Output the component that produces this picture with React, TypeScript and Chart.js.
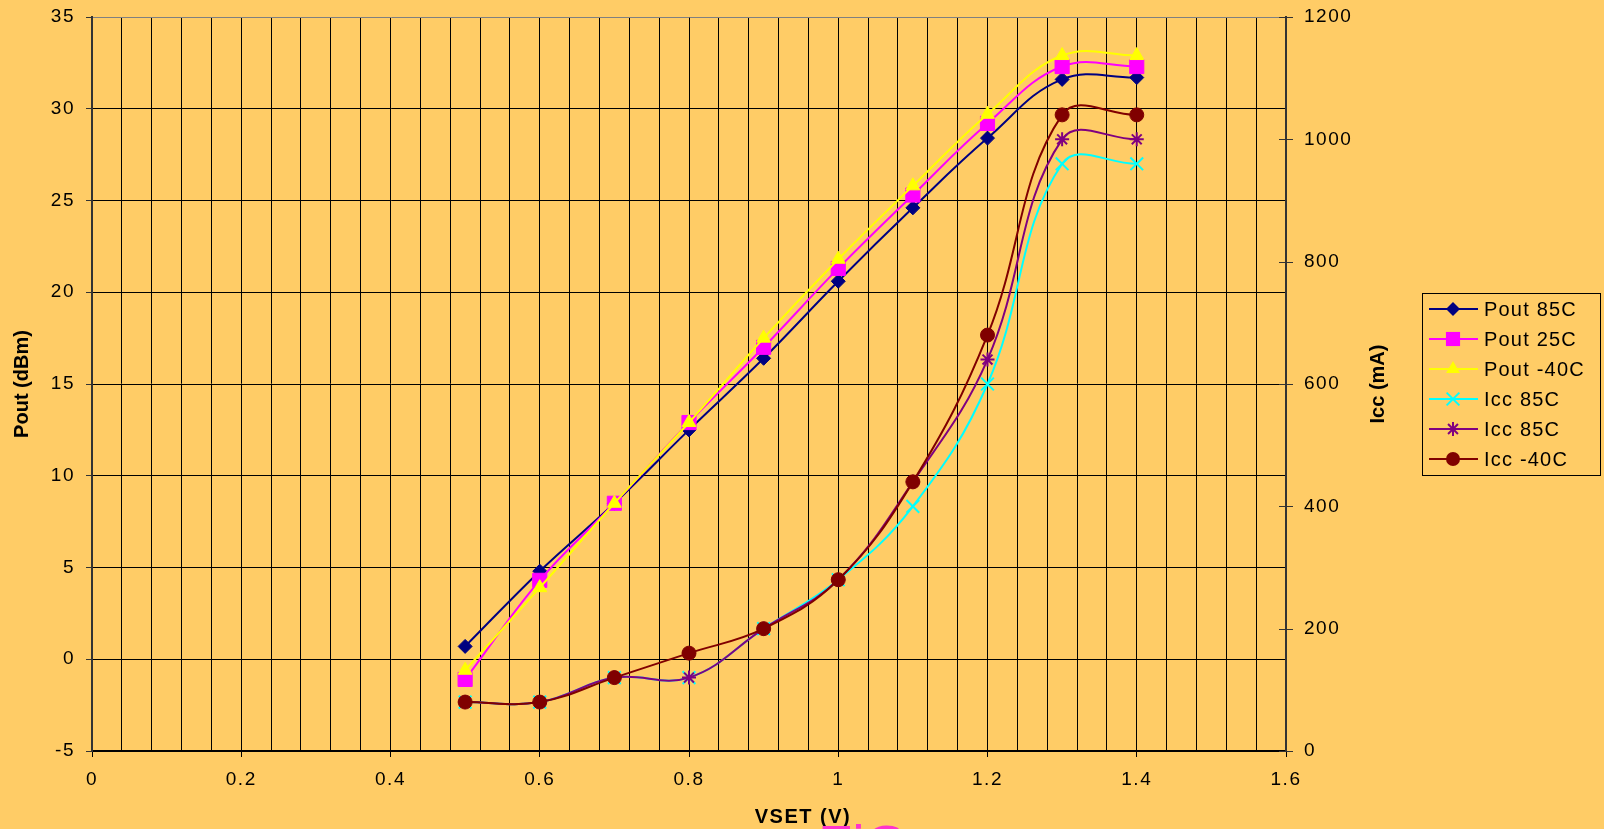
import React, { useEffect, useRef } from "react";
import { Chart, registerables } from "chart.js";

Chart.register(...registerables);

// ---- data ----
const vset = [0.5, 0.6, 0.7, 0.8, 0.9, 1.0, 1.1, 1.2, 1.3, 1.4];
const pout85 = [0.7, 4.8, 8.5, 12.5, 16.4, 20.6, 24.6, 28.4, 31.6, 31.7];
const pout25 = [-1.1, 4.3, 8.5, 12.9, 17.0, 21.3, 25.3, 29.2, 32.3, 32.3];
const poutM40 = [-0.6, 3.9, 8.5, 12.9, 17.5, 21.8, 25.8, 29.7, 32.9, 32.9];
const icc85a = [80, 80, 120, 120, 200, 280, 400, 600, 960, 960];
const icc85b = [80, 80, 120, 120, 200, 280, 440, 640, 1000, 1000];
const iccM40 = [80, 80, 120, 160, 200, 280, 440, 680, 1040, 1040];

const seriesNames = ["Pout 85C", "Pout 25C", "Pout -40C", "Icc 85C", "Icc 85C", "Icc -40C"];
const seriesColors = ["#000080", "#FF00FF", "#FFFF00", "#00FFFF", "#800080", "#800000"];
const seriesStyles = ["rectRot", "rect", "triangle", "crossRot", "star", "circle"];
const seriesRadius = [7, 10, 8, 9, 7, 7];
const seriesAxis = ["y", "y", "y", "y1", "y1", "y1"];
const seriesValues = [pout85, pout25, poutM40, icc85a, icc85b, iccM40];

const xTickLabels = ["0", "0.2", "0.4", "0.6", "0.8", "1", "1.2", "1.4", "1.6"];
const xTitle = "VSET (V)";
const yTitle = "Pout (dBm)";
const y1Title = "Icc (mA)";

const FONT = "'Liberation Sans', Arial, sans-serif";
const BG = "#FFCC66";

function drawMarker(ctx: CanvasRenderingContext2D, style: string, x: number, y: number, r: number, color: string) {
  ctx.save();
  ctx.fillStyle = color;
  ctx.strokeStyle = color;
  ctx.lineWidth = style === "crossRot" || style === "star" ? 2 : 1;
  ctx.beginPath();
  if (style === "rectRot") {
    ctx.moveTo(x - r, y);
    ctx.lineTo(x, y - r);
    ctx.lineTo(x + r, y);
    ctx.lineTo(x, y + r);
    ctx.closePath();
    ctx.fill();
  } else if (style === "rect") {
    const s = Math.SQRT1_2 * r;
    ctx.rect(x - s, y - s, 2 * s, 2 * s);
    ctx.fill();
  } else if (style === "triangle") {
    ctx.moveTo(x, y - r);
    ctx.lineTo(x + 0.866 * r, y + 0.5 * r);
    ctx.lineTo(x - 0.866 * r, y + 0.5 * r);
    ctx.closePath();
    ctx.fill();
  } else if (style === "circle") {
    ctx.arc(x, y, r, 0, Math.PI * 2);
    ctx.fill();
  } else if (style === "crossRot" || style === "star") {
    const o = Math.SQRT1_2 * r;
    ctx.moveTo(x - o, y - o);
    ctx.lineTo(x + o, y + o);
    ctx.moveTo(x - o, y + o);
    ctx.lineTo(x + o, y - o);
    if (style === "star") {
      ctx.moveTo(x, y - r);
      ctx.lineTo(x, y + r);
      ctx.moveTo(x - r, y);
      ctx.lineTo(x + r, y);
    }
    ctx.stroke();
  }
  ctx.restore();
}

const spacingPlugin = {
  id: "spacing",
  beforeLayout(chart: any) {
    chart.ctx.letterSpacing = "1.5px";
  },
  beforeDraw(chart: any) {
    chart.ctx.letterSpacing = "1.5px";
  },
};

const decorPlugin = {
  id: "decor",
  afterDraw(chart: any) {
    const ctx: CanvasRenderingContext2D = chart.ctx;
    const area = chart.chartArea;
    const y1 = chart.scales.y1;
    ctx.save();
    // right axis crossing tick marks
    ctx.strokeStyle = "#333333";
    ctx.lineWidth = 1;
    for (const t of y1.ticks) {
      const py = Math.round(y1.getPixelForValue(t.value)) + 0.5;
      ctx.beginPath();
      ctx.moveTo(area.right - 7, py);
      ctx.lineTo(area.right + 7, py);
      ctx.stroke();
    }
    // titles
    ctx.fillStyle = "#000";
    ctx.textAlign = "center";
    ctx.textBaseline = "middle";
    (ctx as any).letterSpacing = "1.5px";
    ctx.font = `bold 20px ${FONT}`;
    ctx.fillText(xTitle, 803, 817);
    (ctx as any).letterSpacing = "0px";
    ctx.save();
    ctx.translate(22, (area.top + area.bottom) / 2);
    ctx.rotate(-Math.PI / 2);
    ctx.fillText(yTitle, 0, 0);
    ctx.restore();
    ctx.save();
    ctx.translate(1378, (area.top + area.bottom) / 2);
    ctx.rotate(-Math.PI / 2);
    ctx.fillText(y1Title, 0, 0);
    ctx.restore();
    // legend
    const lx = 1422.5, ly = 293.5, lw = 178, lh = 182;
    ctx.fillStyle = BG;
    ctx.fillRect(lx, ly, lw, lh);
    ctx.strokeStyle = "#000";
    ctx.lineWidth = 1;
    ctx.strokeRect(lx, ly, lw, lh);
    ctx.font = `20px ${FONT}`;
    ctx.textAlign = "left";
    (ctx as any).letterSpacing = "1.2px";
    seriesNames.forEach((name, i) => {
      const cy = 309 + i * 30;
      ctx.strokeStyle = seriesColors[i];
      ctx.lineWidth = 2;
      ctx.beginPath();
      ctx.moveTo(1429, cy);
      ctx.lineTo(1478, cy);
      ctx.stroke();
      drawMarker(ctx, seriesStyles[i], 1453, cy, seriesRadius[i], seriesColors[i]);
      ctx.fillStyle = "#000";
      ctx.fillText(name, 1484, cy + 1);
    });
    ctx.restore();
  },
};

export default function App() {
  const canvasRef = useRef<HTMLCanvasElement | null>(null);

  useEffect(() => {
    const canvas = canvasRef.current;
    if (!canvas) return;
    const datasets = seriesNames.map((name, i) => ({
      label: name,
      data: vset.map((x, k) => ({ x, y: seriesValues[i][k] })),
      yAxisID: seriesAxis[i],
      borderColor: seriesColors[i],
      backgroundColor: seriesColors[i],
      borderWidth: 2,
      pointStyle: seriesStyles[i],
      pointRadius: seriesRadius[i],
      pointBorderWidth: seriesStyles[i] === "crossRot" || seriesStyles[i] === "star" ? 2 : 1,
      tension: 0.4,
      order: 5 - i,
    }));
    const tickFont = { family: FONT, size: 19 };
    const chart = new Chart(canvas, {
      type: "line",
      data: { datasets },
      plugins: [spacingPlugin, decorPlugin],
      options: {
        animation: false,
        responsive: false,
        devicePixelRatio: 1,
        layout: { padding: { top: 17, left: 0, right: 0, bottom: 0 } },
        plugins: { legend: { display: false }, tooltip: { enabled: false } },
        scales: {
          x: {
            type: "linear",
            min: 0,
            max: 1.6,
            afterFit: (s: any) => {
              s.height = 78;
              s.paddingLeft = 0;
              s.paddingRight = 0;
            },
            ticks: {
              stepSize: 0.04,
              autoSkip: false,
              maxRotation: 0,
              minRotation: 0,
              padding: 11,
              color: "#000",
              font: tickFont,
              callback: (v: any) => {
                const k = Math.round(Number(v) / 0.04);
                return k % 5 === 0 ? xTickLabels[k / 5] : "";
              },
            },
            grid: {
              color: "#000",
              lineWidth: 1,
              tickLength: 6,
              tickColor: (c: any) => (Math.round(c.tick.value / 0.04) % 5 === 0 ? "#000" : "rgba(0,0,0,0)"),
            },
            border: { color: "#000", width: 2 },
          },
          y: {
            type: "linear",
            position: "left",
            min: -5,
            max: 35,
            afterFit: (s: any) => {
              s.width = 92;
              s.paddingTop = 0;
              s.paddingBottom = 0;
            },
            ticks: { stepSize: 5, padding: 11, color: "#000", font: tickFont, callback: (v: any) => String(v) },
            grid: {
              color: (c: any) => (c.tick && c.tick.value === 35 ? "#808080" : "#000"),
              lineWidth: 1,
              tickLength: 6,
              tickColor: "#333",
            },
            border: { color: "#333", width: 2 },
          },
          y1: {
            type: "linear",
            position: "right",
            min: 0,
            max: 1200,
            afterFit: (s: any) => {
              s.width = 318;
              s.paddingTop = 0;
              s.paddingBottom = 0;
            },
            ticks: { stepSize: 200, padding: 18, color: "#000", font: tickFont, callback: (v: any) => String(v) },
            grid: { drawOnChartArea: false, drawTicks: false },
            border: { color: "#333", width: 2 },
          },
        },
      } as any,
    });
    return () => chart.destroy();
  }, []);

  return (
    <div
      style={{
        position: "fixed",
        left: 0,
        top: 0,
        width: 1604,
        height: 829,
        overflow: "hidden",
        background: BG,
      }}
    >
      <canvas ref={canvasRef} width={1604} height={829} style={{ width: 1604, height: 829, display: "block" }} />
      <div
        style={{
          position: "absolute",
          left: 818,
          top: 817,
          fontFamily: FONT,
          fontSize: 56,
          lineHeight: "56px",
          color: "#FF33CC",
          whiteSpace: "nowrap",
        }}
      >
        FiG
      </div>
    </div>
  );
}
